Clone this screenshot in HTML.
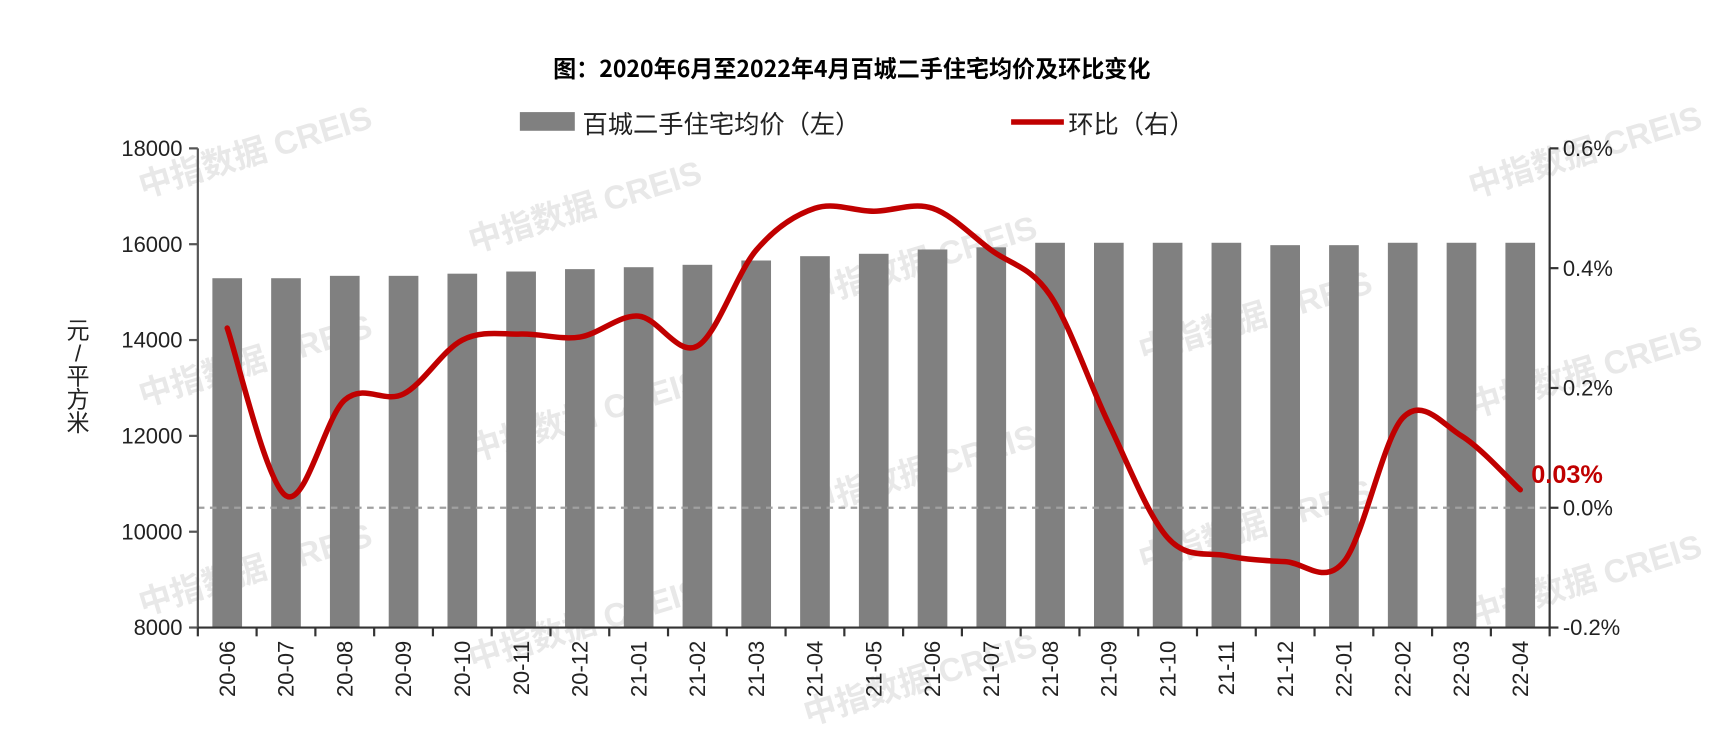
<!DOCTYPE html>
<html><head><meta charset="utf-8"><style>
html,body{margin:0;padding:0;background:#fff;width:1720px;height:738px;overflow:hidden;}
svg{display:block;}
svg text{font-family:"Liberation Sans","Noto Sans CJK SC",sans-serif;}
</style></head><body>
<svg id="chart" width="1720" height="738" viewBox="0 0 1565 671.5" overflow="hidden" xmlns="http://www.w3.org/2000/svg">
<text x="775" y="70" text-anchor="middle" font-size="21" font-weight="bold" style="font-family:'Noto Sans CJK SC',sans-serif">图：2020年6月至2022年4月百城二手住宅均价及环比变化</text>
<g id="wm"></g>
<g>
<rect x="473" y="102" width="50" height="17" fill="#808080"/>
<text x="530" y="121" font-size="23" fill="#222">百城二手住宅均价（左）</text>
<line x1="920" y1="111" x2="968" y2="111" stroke="#c00000" stroke-width="5"/>
<text x="972" y="121" font-size="23" fill="#222">环比（右）</text>
</g>
<g id="plot"></g>
</svg>
<script>
const categories=["20-06","20-07","20-08","20-09","20-10","20-11","20-12","21-01","21-02","21-03","21-04","21-05","21-06","21-07","21-08","21-09","21-10","21-11","21-12","22-01","22-02","22-03","22-04"];
const priceValues=[15290,15290,15340,15340,15385,15430,15480,15520,15570,15660,15750,15800,15890,15935,16030,16030,16030,16030,15980,15980,16030,16030,16030];
const momValues=[0.30,0.02,0.18,0.19,0.28,0.29,0.285,0.32,0.27,0.43,0.50,0.495,0.50,0.43,0.355,0.14,-0.05,-0.08,-0.09,-0.09,0.15,0.12,0.03];
const leftTicks=[8000,10000,12000,14000,16000,18000];
const rightTicks=[-0.2,0,0.2,0.4,0.6];
const lastLabel="0.03%";

const NS="http://www.w3.org/2000/svg";
const X0=180,X1=1410,YT=135,YB=571;
const yL=v=>YB-(v-8000)/10000*(YB-YT);
const yR=v=>YB-(v+0.2)/0.8*(YB-YT);
const band=(X1-X0)/categories.length;
const xC=i=>X0+band*(i+0.5);
const plot=document.getElementById('plot');
function mk(tag,attrs,parent){const e=document.createElementNS(NS,tag);for(const k in attrs)e.setAttribute(k,attrs[k]);(parent||plot).appendChild(e);return e;}

const wm=document.getElementById('wm');
[[130,180],[430,230],[735,280],[1040,330],[1340,180],[130,370],[430,420],[735,470],[1040,520],[1340,380],[130,560],[430,610],[735,660],[1340,570]].forEach(p=>{
 const t=mk('text',{x:p[0],y:p[1],'font-size':30,'font-weight':'bold',fill:'#e8e8e8',transform:`rotate(-17 ${p[0]} ${p[1]})`},wm);
 
 
 t.textContent='中指数据 CREIS';
});

priceValues.forEach((v,i)=>{
 const r=mk('rect',{x:xC(i)-13.5,y:yL(v),width:27,height:YB-yL(v),fill:'#808080'});
 
 
});
const z=mk('line',{x1:X0,x2:X1,y1:yR(0),y2:yR(0),stroke:'#a0a0a0','stroke-width':2,'stroke-dasharray':'6,5'});



const la=mk('line',{x1:X0,x2:X0,y1:YT,y2:YB,stroke:'#555','stroke-width':2});


const ra=mk('line',{x1:X1,x2:X1,y1:YT,y2:YB,stroke:'#333','stroke-width':2});


const xa=mk('line',{x1:X0,x2:X1,y1:YB,y2:YB,stroke:'#333','stroke-width':2});


leftTicks.forEach(v=>{
 mk('line',{x1:X0-8,x2:X0,y1:yL(v),y2:yL(v),stroke:'#555','stroke-width':2});
 const t=mk('text',{x:X0-14,y:yL(v)+7,'text-anchor':'end','font-size':20,fill:'#222'});
 
 
 t.textContent=v;
});
rightTicks.forEach(v=>{
 mk('line',{x1:X1,x2:X1+8,y1:yR(v),y2:yR(v),stroke:'#333','stroke-width':2});
 const t=mk('text',{x:X1+12,y:yR(v)+7,'font-size':20,fill:'#222'});
 
 
 t.textContent=v.toFixed(1)+'%';
});
for(let i=0;i<=categories.length;i++){mk('line',{x1:X0+band*i,x2:X0+band*i,y1:YB,y2:YB+8,stroke:'#333','stroke-width':2});}
categories.forEach((c,i)=>{
 const x=xC(i)+7,y=583;
 const t=mk('text',{x:x,y:y,'text-anchor':'end','font-size':20,fill:'#222',transform:`rotate(-90 ${x} ${y})`});
 
 
 t.textContent=c;
});
const yt=mk('text',{'font-size':21,fill:'#222','text-anchor':'middle'});


['元','/','平','方','米'].forEach((ch,k)=>{
 const s=mk('tspan',{x:71,y:308+k*21},yt);
 s.textContent=ch;
});

const pts=momValues.map((v,i)=>[xC(i),yR(v)]);
let d=`M${pts[0][0]},${pts[0][1]}`;
for(let i=0;i<pts.length-1;i++){
 const p0=pts[Math.max(0,i-1)],p1=pts[i],p2=pts[i+1],p3=pts[Math.min(pts.length-1,i+2)];
 const c1=[p1[0]+(p2[0]-p0[0])/6,p1[1]+(p2[1]-p0[1])/6],c2=[p2[0]-(p3[0]-p1[0])/6,p2[1]-(p3[1]-p1[1])/6];
 d+=` C${c1[0]},${c1[1]} ${c2[0]},${c2[1]} ${p2[0]},${p2[1]}`;
}
const ln=mk('path',{d:d,fill:'none',stroke:'#c00000','stroke-width':5,'stroke-linejoin':'round','stroke-linecap':'round'});


const last=pts[pts.length-1];
const lb=mk('text',{x:last[0]+10,y:last[1]-6,'font-size':23,'font-weight':'bold',fill:'#c00000'});


lb.textContent=lastLabel;
</script>
</body></html>
